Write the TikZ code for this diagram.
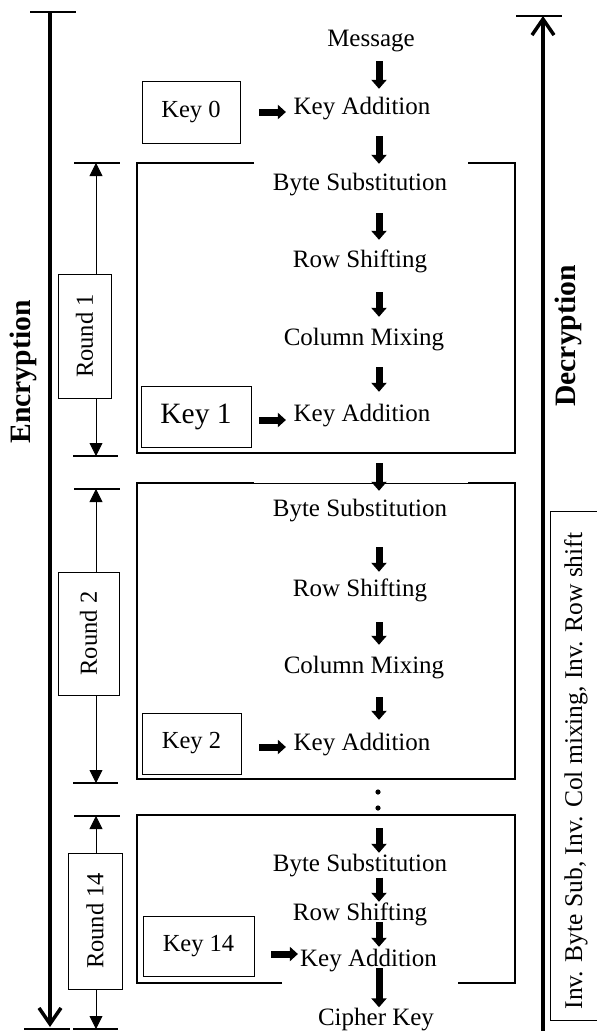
\documentclass[tikz,border=0pt]{standalone}
\usepackage{fontspec}
\setmainfont{Liberation Serif}
\usetikzlibrary{arrows.meta,calc}
\begin{document}
\begin{tikzpicture}[x=1pt,y=-1pt,
  stp/.style={font=\fontsize{25}{30}\selectfont, inner sep=0pt, text height=17pt, text depth=6pt},
  keybox/.style={draw, line width=0.9pt, inner sep=0pt, font=\fontsize{24.5}{29}\selectfont},
  roundbox/.style={draw, line width=0.9pt, inner sep=0pt, rotate=90, font=\fontsize{24.5}{29}\selectfont},
  frame/.style={line width=2.2pt},
  thinframe/.style={line width=0.8pt},
  fat/.style={line width=7pt, -{Triangle[width=15pt,length=9pt]}},
  rarrow/.style={line width=0.9pt, -{Triangle[width=13pt,length=13pt]}},
  big/.style={line width=3.5pt, -{Straight Barb[length=16pt,width=22pt]}},
  bar/.style={line width=2.2pt}
]
\useasboundingbox (0,0) rectangle (597,1031);

% ---------- step texts ----------
\node[stp] (msg) at (371,41) {Message};
\node[stp] (ka0) at (362,109) {Key Addition};
\node[stp] (bs1) at (360,185) {Byte Substitution};
\node[stp] (rs1) at (360,262) {Row Shifting};
\node[stp] (cm1) at (364,340) {Column Mixing};
\node[stp] (ka1) at (362,416) {Key Addition};
\node[stp] (bs2) at (360,511) {Byte Substitution};
\node[stp] (rs2) at (360,591) {Row Shifting};
\node[stp] (cm2) at (364,668) {Column Mixing};
\node[stp] (ka2) at (362,745) {Key Addition};
\node[stp] (bs3) at (360,866) {Byte Substitution};
\node[stp] (rs3) at (360,915) {Row Shifting};
\node[stp] (ka3) at (368.5,961) {Key Addition};
\node[stp] (ck) at (376,1020) {Cipher Key};
\node[inner sep=0pt, minimum width=6pt, minimum height=21pt] (dots) at (378,800) {};
\fill ([yshift=8pt]dots.center) circle (2.6pt);
\fill ([yshift=-8pt]dots.center) circle (2.6pt);
\coordinate (ax) at (379,0);

% ---------- vertical fat arrows ----------
\draw[fat, shorten <=8.5pt, shorten >=8.5pt] (msg.south -| ax) -- (ka0.north -| ax);
\draw[fat, shorten <=15.5pt, shorten >=9.5pt] (ka0.south -| ax) -- (bs1.north -| ax);
\draw[fat, shorten <=16.5pt, shorten >=10.5pt] (bs1.south -| ax) -- (rs1.north -| ax);
\draw[fat, shorten <=18.5pt, shorten >=11.5pt] (rs1.south -| ax) -- (cm1.north -| ax);
\draw[fat, shorten <=15.5pt, shorten >=12.5pt] (cm1.south -| ax) -- (ka1.north -| ax);
\draw[fat, shorten <=35.5pt, shorten >=8.5pt] (ka1.south -| ax) -- (bs2.north -| ax);
\draw[fat, shorten <=24.5pt, shorten >=7.5pt] (bs2.south -| ax) -- (rs2.north -| ax);
\draw[fat, shorten <=19.5pt, shorten >=11.5pt] (rs2.south -| ax) -- (cm2.north -| ax);
\draw[fat, shorten <=17.5pt, shorten >=13.5pt] (cm2.south -| ax) -- (ka2.north -| ax);
\draw[fat, shorten <=17.5pt, shorten >=1.5pt] (dots.south -| ax) -- (bs3.north -| ax);
\draw[fat, shorten <=0pt, shorten >=1.5pt] (bs3.south -| ax) -- (rs3.north -| ax);
\draw[fat, shorten <=-4.5pt, shorten >=2.5pt] (rs3.south -| ax) -- (ka3.north -| ax);
\draw[fat, shorten <=-4.5pt, shorten >=1pt] (ka3.south -| ax) -- (ck.north -| ax);

% ---------- key boxes ----------
\node[keybox, minimum width=98pt, minimum height=62pt] (k0) at (191,112) {Key 0};
\node[keybox, minimum width=110pt, minimum height=61pt, font=\fontsize{29.5}{34}\selectfont] (k1) at (196,416.5) {Key 1};
\node[keybox, minimum width=99pt, minimum height=61pt] (k2) at (191.5,743.5) {Key 2};
\node[keybox, minimum width=111pt, minimum height=60pt] (k14) at (198.5,946) {Key 14};

\draw[fat, -{Triangle[width=14pt,length=8pt]}] ([shift={(19,0)}]k0.east) -- ([shift={(-7.5,3)}]ka0.west);
\draw[fat, -{Triangle[width=14pt,length=8pt]}] ([shift={(8,3.5)}]k1.east) -- ([shift={(-7.5,4)}]ka1.west);
\draw[fat, -{Triangle[width=14pt,length=8pt]}] ([shift={(18,3.5)}]k2.east) -- ([shift={(-7.5,2)}]ka2.west);
\draw[fat, -{Triangle[width=14pt,length=8pt]}] ([shift={(17,8)}]k14.east) -- ([shift={(-2,-7)}]ka3.west);

% ---------- round frames ----------
\draw[frame] (254,163) -- (137,163) -- (137,453) -- (515,453) -- (515,163) -- (468,163);
\draw[frame] (254,483) -- (137,483) -- (137,779) -- (515,779) -- (515,483) -- (468,483);
\draw[thinframe] (254,483) -- (468,483);
\draw[frame] (282,983) -- (137,983) -- (137,815) -- (515,815) -- (515,983) -- (458,983);

% ---------- round labels and brackets ----------
\node[roundbox, minimum width=124pt, minimum height=53pt] (r1l) at (84.5,336) {Round 1};
\node[roundbox, minimum width=123pt, minimum height=61pt] (r2l) at (88.5,633.5) {Round 2};
\node[roundbox, minimum width=136pt, minimum height=54pt] (r14l) at (95,921) {Round 14};

\coordinate (r1t) at (96,163);  \coordinate (r1b) at (96,456);
\coordinate (r2t) at (96,489);  \coordinate (r2b) at (96,783);
\coordinate (r14t) at (96,816); \coordinate (r14b) at (96,1029);
\draw[bar] (74,163) -- (120,163);  \draw[bar] (73,456) -- (118,456);
\draw[bar] (74,489) -- (120,489);  \draw[bar] (73,783) -- (118,783);
\draw[bar] (74,816) -- (120,816);  \draw[bar] (73,1029) -- (118,1029);
\draw[rarrow] (r1l.east -| r1t) -- (r1t);
\draw[rarrow] (r1l.west -| r1b) -- (r1b);
\draw[rarrow] (r2l.east -| r2t) -- (r2t);
\draw[rarrow] (r2l.west -| r2b) -- (r2b);
\draw[rarrow] (r14l.east -| r14t) -- (r14t);
\draw[rarrow] (r14l.west -| r14b) -- (r14b);

% ---------- encryption / decryption ----------
\coordinate (etop) at (50,12);  \coordinate (ebot) at (50,1027);
\draw[bar] (30,12) -- (76,12);
\draw[bar] (24,1029) -- (70,1029);
\draw[big] (etop) -- (ebot);
\node[rotate=90, inner sep=0pt, font=\fontsize{29.6}{34}\selectfont\bfseries] (enc) at (23,372) {Encryption};

\coordinate (dbot) at (543,1035); \coordinate (dtop) at (543,16);
\draw[bar] (516,16) -- (562,16);
\draw[big] (dbot) -- (dtop);
\node[rotate=90, inner sep=0pt, font=\fontsize{29.6}{34}\selectfont\bfseries] (dec) at (568,336) {Decryption};

\draw[line width=0.9pt] (610,511) -- (550,511) -- (550,1020) -- (610,1020);
\node[rotate=90, inner sep=0pt, font=\fontsize{25.5}{30}\selectfont] (inv) at (576,771) {Inv. Byte Sub, Inv. Col mixing, Inv. Row shift};
\end{tikzpicture}
\end{document}
